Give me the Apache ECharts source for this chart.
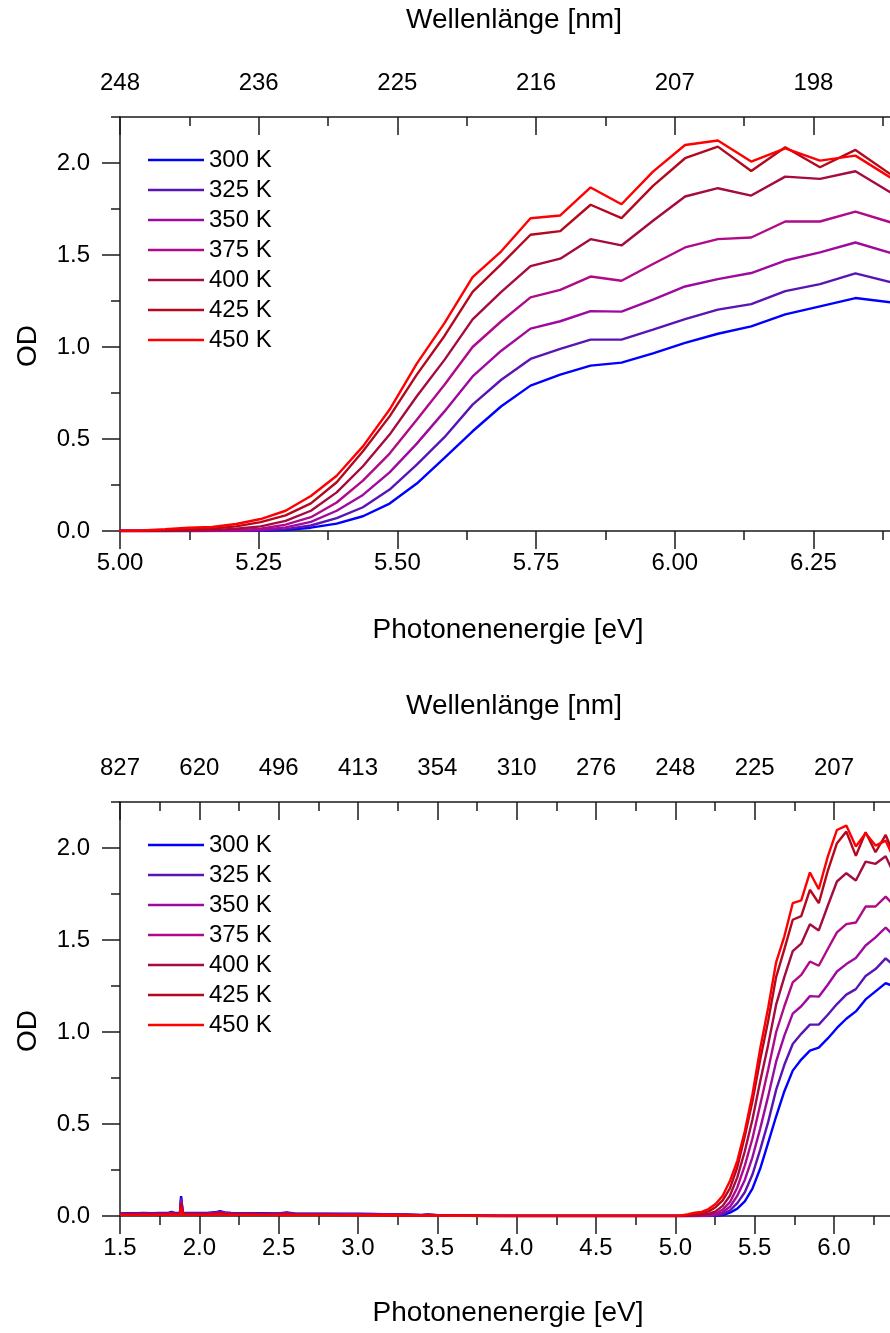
<!DOCTYPE html>
<html>
<head>
<meta charset="utf-8">
<script src="https://cdn.jsdelivr.net/npm/echarts@6/dist/echarts.min.js"></script>
<style>
html,body{margin:0;padding:0;background:#fff}
#c{width:890px;height:1333px}
</style>
</head>
<body>
<div id="c"></div>
<script>
// ---------- data ----------
const temps = ['300 K','325 K','350 K','375 K','400 K','425 K','450 K'];
const colors = ['#0000FF','#5A14B4','#9E0A9E','#B00A88','#A50A40','#B4081E','#FF0000'];

// photon energies (eV) of measured points, 248 nm ... 194 nm in 2 nm steps
const energyEV = [4.9994,5.0400,5.0813,5.1233,5.1660,5.2094,5.2536,5.2985,5.3441,5.3906,5.4379,5.4860,5.5350,5.5849,5.6356,5.6873,5.7400,5.7936,5.8483,5.9040,5.9608,6.0186,6.0777,6.1378,6.1992,6.2618,6.3257,6.3909];
const od300 = [0,0,0,0,0,0,0.001,0.005,0.018,0.040,0.080,0.149,0.258,0.397,0.542,0.678,0.790,0.850,0.899,0.915,0.965,1.022,1.072,1.112,1.177,1.221,1.266,1.242];
const od325 = [0,0,0,0,0,0.001,0.003,0.010,0.030,0.070,0.129,0.225,0.361,0.510,0.687,0.822,0.935,0.990,1.040,1.040,1.094,1.152,1.203,1.233,1.304,1.342,1.400,1.351];
const od350 = [0,0,0,0,0.001,0.002,0.006,0.020,0.050,0.110,0.196,0.319,0.475,0.650,0.840,0.980,1.100,1.140,1.195,1.192,1.257,1.329,1.369,1.402,1.470,1.514,1.568,1.510];
const od375 = [0,0,0,0,0.001,0.004,0.012,0.035,0.075,0.155,0.274,0.421,0.605,0.795,1.000,1.140,1.270,1.310,1.383,1.360,1.451,1.541,1.586,1.595,1.682,1.682,1.736,1.676];
const od400 = [0,0,0,0.002,0.005,0.012,0.025,0.055,0.110,0.210,0.352,0.524,0.732,0.930,1.150,1.300,1.440,1.480,1.586,1.552,1.686,1.818,1.863,1.823,1.926,1.914,1.955,1.836];
const od425 = [0,0,0.003,0.008,0.013,0.025,0.048,0.085,0.150,0.265,0.433,0.623,0.850,1.060,1.300,1.450,1.610,1.630,1.773,1.700,1.876,2.026,2.089,1.957,2.086,1.977,2.071,1.935];
const od450 = [0,0.003,0.010,0.018,0.022,0.038,0.065,0.110,0.190,0.300,0.460,0.660,0.910,1.130,1.380,1.520,1.700,1.715,1.867,1.776,1.953,2.098,2.122,2.008,2.080,2.013,2.040,1.917];

// low-energy tail (only shown in the lower panel)
const tailEV = [1.50,1.55,1.60,1.65,1.70,1.75,1.80,1.825,1.85,1.878,1.885,1.890,1.896,1.95,2.00,2.05,2.10,2.13,2.16,2.20,2.30,2.40,2.50,2.55,2.60,2.70,2.80,2.90,3.00,3.10,3.20,3.30,3.40,3.44,3.50,3.60,3.70,3.80,3.90,4.00,4.20,4.40,4.60,4.80,4.95];
const tail300 = [0.014,0.015,0.015,0.016,0.015,0.016,0.016,0.022,0.016,0.017,0.108,0.111,0.017,0.016,0.016,0.017,0.020,0.026,0.020,0.016,0.015,0.015,0.014,0.020,0.014,0.013,0.013,0.012,0.012,0.011,0.009,0.008,0.006,0.009,0.005,0.003,0.002,0.001,0,0,0,0,0,0,0];
const tail325 = [0.012,0.013,0.013,0.014,0.013,0.014,0.014,0.019,0.014,0.015,0.098,0.100,0.015,0.014,0.014,0.015,0.018,0.023,0.018,0.014,0.013,0.013,0.012,0.017,0.012,0.011,0.011,0.010,0.010,0.009,0.008,0.007,0.005,0.007,0.004,0.003,0.002,0.001,0,0,0,0,0,0,0];
const tail350 = [0.011,0.011,0.012,0.012,0.012,0.012,0.012,0.016,0.012,0.013,0.088,0.090,0.013,0.012,0.012,0.013,0.016,0.020,0.016,0.012,0.012,0.011,0.011,0.015,0.011,0.010,0.010,0.009,0.009,0.008,0.007,0.006,0.005,0.006,0.004,0.002,0.001,0.001,0,0,0,0,0,0,0];
const tail375 = [0.009,0.010,0.010,0.010,0.010,0.010,0.010,0.014,0.010,0.011,0.078,0.080,0.011,0.010,0.010,0.011,0.013,0.017,0.013,0.010,0.010,0.009,0.009,0.013,0.009,0.009,0.008,0.008,0.007,0.007,0.006,0.005,0.004,0.005,0.003,0.002,0.001,0,0,0,0,0,0,0,0];
const tail400 = [0.008,0.008,0.008,0.009,0.008,0.009,0.009,0.012,0.009,0.009,0.068,0.070,0.009,0.009,0.009,0.009,0.011,0.014,0.011,0.009,0.008,0.008,0.008,0.011,0.008,0.007,0.007,0.007,0.006,0.006,0.005,0.004,0.003,0.004,0.003,0.002,0.001,0,0,0,0,0,0,0,0];
const tail425 = [0.007,0.007,0.007,0.007,0.007,0.007,0.007,0.010,0.007,0.008,0.058,0.060,0.008,0.007,0.007,0.008,0.009,0.012,0.009,0.007,0.007,0.007,0.006,0.009,0.006,0.006,0.006,0.005,0.005,0.005,0.004,0.003,0.003,0.003,0.002,0.001,0.001,0,0,0,0,0,0,0,0];
const tail450 = [0.006,0.006,0.006,0.006,0.006,0.006,0.006,0.008,0.006,0.006,0.048,0.050,0.006,0.006,0.006,0.006,0.007,0.010,0.007,0.006,0.006,0.006,0.005,0.007,0.005,0.005,0.005,0.005,0.004,0.004,0.004,0.003,0.002,0.003,0.002,0.001,0.001,0,0,0,0,0,0,0,0];

// tick values and labels
const p1MajorE = [5.00,5.25,5.50,5.75,6.00,6.25];
const p1MinorE = [5.125,5.375,5.625,5.875,6.125,6.375];
const p1BottomLabels = ['5.00','5.25','5.50','5.75','6.00','6.25'];
const p1TopLabels = ['248','236','225','216','207','198'];
const p2MajorE = [1.5,2.0,2.5,3.0,3.5,4.0,4.5,5.0,5.5,6.0];
const p2MinorE = [1.75,2.25,2.75,3.25,3.75,4.25,4.75,5.25,5.75,6.25];
const p2BottomLabels = ['1.5','2.0','2.5','3.0','3.5','4.0','4.5','5.0','5.5','6.0'];
const p2TopLabels = ['827','620','496','413','354','310','276','248','225','207'];
const yMajor = [0,0.5,1.0,1.5,2.0];
const yMinor = [0.25,0.75,1.25,1.75,2.25];
const yLabels = ['0.0','0.5','1.0','1.5','2.0'];

const odMain = [od300,od325,od350,od375,od400,od425,od450];
const odTail = [tail300,tail325,tail350,tail375,tail400,tail425,tail450];

// ---------- chart ----------
const FONT = '"Liberation Sans", Arial, sans-serif';
const AX = '#1a1a1a';
const TICKFS = 24;
const LW = 2.4;
const chart = echarts.init(document.getElementById('c'), null, {renderer:'canvas'});

function lbl(vals, labels){
  return function(v){
    for (let i=0;i<vals.length;i++){ if (Math.abs(vals[i]-v) < 1e-6) return labels[i]; }
    return '';
  };
}
function xAxesFor(g, min, max, major, minor, botLabels, topLabels){
  const ls = {color:AX, width:1.5};
  return [
    {type:'value', gridIndex:g, position:'bottom', min, max,
     axisLine:{show:true,onZero:false,lineStyle:ls},
     axisTick:{show:true,customValues:major,length:18,inside:false,lineStyle:ls},
     axisLabel:{show:true,customValues:major,formatter:lbl(major,botLabels),margin:20,fontSize:TICKFS,fontFamily:FONT,color:'#000'},
     splitLine:{show:false}},
    {type:'value', gridIndex:g, position:'bottom', min, max,
     axisLine:{show:false,onZero:false},
     axisTick:{show:true,customValues:minor,length:9,inside:false,lineStyle:ls},
     axisLabel:{show:false}, splitLine:{show:false}},
    {type:'value', gridIndex:g, position:'top', min, max,
     axisLine:{show:true,onZero:false,lineStyle:ls},
     axisTick:{show:true,customValues:major,length:18,inside:true,lineStyle:ls},
     axisLabel:{show:true,customValues:major,formatter:lbl(major,topLabels),margin:22,fontSize:TICKFS,fontFamily:FONT,color:'#000'},
     splitLine:{show:false}},
    {type:'value', gridIndex:g, position:'top', min, max,
     axisLine:{show:false,onZero:false},
     axisTick:{show:true,customValues:minor,length:9,inside:true,lineStyle:ls},
     axisLabel:{show:false}, splitLine:{show:false}}
  ];
}
function yAxesFor(g){
  const ls = {color:AX, width:1.5};
  return [
    {type:'value', gridIndex:g, position:'left', min:0, max:2.25,
     axisLine:{show:true,onZero:false,lineStyle:ls},
     axisTick:{show:true,customValues:yMajor,length:18,inside:false,lineStyle:ls},
     axisLabel:{show:true,customValues:yMajor,formatter:lbl(yMajor,yLabels),margin:30,fontSize:TICKFS,fontFamily:FONT,color:'#000'},
     splitLine:{show:false}},
    {type:'value', gridIndex:g, position:'left', min:0, max:2.25,
     axisLine:{show:false,onZero:false},
     axisTick:{show:true,customValues:yMinor,length:9,inside:false,lineStyle:ls},
     axisLabel:{show:false}, splitLine:{show:false}}
  ];
}

const series = [];
temps.forEach((name,i)=>{
  series.push({
    type:'line', name, xAxisIndex:0, yAxisIndex:0,
    data: energyEV.map((e,k)=>[e, odMain[i][k]]),
    symbol:'none', clip:true, animation:false,
    lineStyle:{width:LW,color:colors[i]}, itemStyle:{color:colors[i]},
    emphasis:{disabled:true}
  });
});
temps.forEach((name,i)=>{
  const d = tailEV.map((e,k)=>[e, odTail[i][k]]).concat(energyEV.map((e,k)=>[e, odMain[i][k]]));
  series.push({
    type:'line', name, xAxisIndex:4, yAxisIndex:2,
    data: d,
    symbol:'none', clip:true, animation:false,
    lineStyle:{width:LW,color:colors[i]}, itemStyle:{color:colors[i]},
    emphasis:{disabled:true}
  });
});

function legendAt(top){
  return {
    left:148, top, orient:'vertical', padding:0,
    icon:'rect', itemWidth:56, itemHeight:2.5, itemGap:0,
    selectedMode:false,
    textStyle:{fontSize:TICKFS, lineHeight:30, fontFamily:FONT, color:'#000'},
    data: temps
  };
}
function txt(text, x, y, rot){
  return {type:'text', x, y, rotation: rot||0,
    style:{text, fontSize:28, fontFamily:FONT, fill:'#000', align:'center', verticalAlign:'middle', textAlign:'center', textVerticalAlign:'middle'}};
}

chart.setOption({
  animation:false,
  backgroundColor:'#ffffff',
  grid:[
    {left:120, top:117, width:770, height:414, outerBoundsMode:'none', containLabel:false},
    {left:120, top:802, width:770, height:414, outerBoundsMode:'none', containLabel:false}
  ],
  xAxis: xAxesFor(0, 5.0, 6.388, p1MajorE, p1MinorE, p1BottomLabels, p1TopLabels)
    .concat(xAxesFor(1, 1.5, 6.353, p2MajorE, p2MinorE, p2BottomLabels, p2TopLabels)),
  yAxis: yAxesFor(0).concat(yAxesFor(1)),
  legend:[legendAt(145), legendAt(830)],
  graphic:[
    txt('Wellenlänge [nm]', 514, 20),
    txt('Photonenenergie [eV]', 508, 630),
    txt('OD', 28, 346, Math.PI/2),
    txt('Wellenlänge [nm]', 514, 706),
    txt('Photonenenergie [eV]', 508, 1313),
    txt('OD', 28, 1031, Math.PI/2)
  ],
  series
});
</script>
</body>
</html>
